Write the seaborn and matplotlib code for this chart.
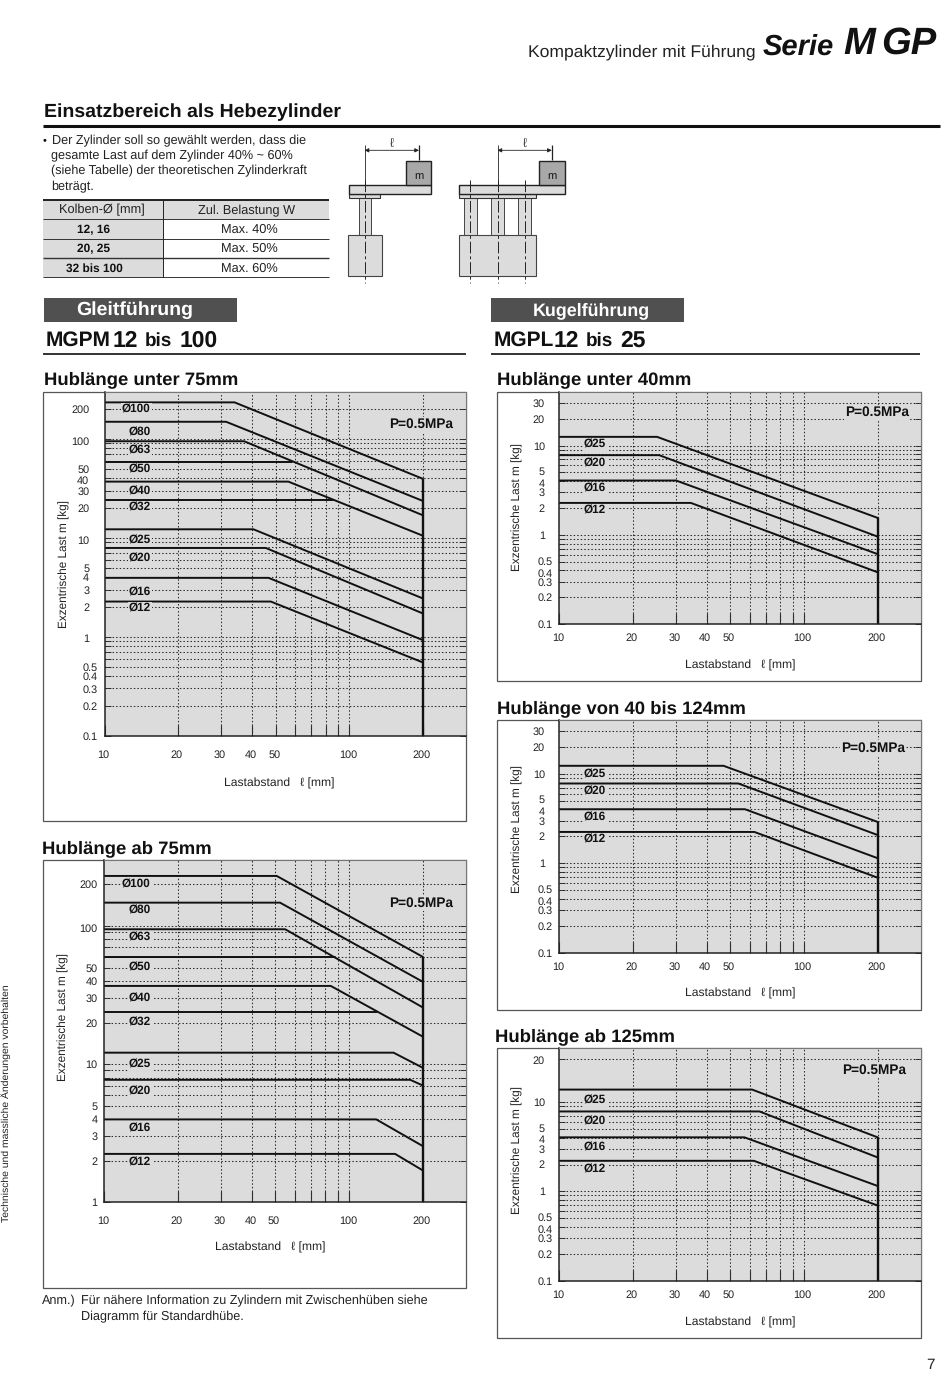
import pandas as pd
import seaborn as sb
import matplotlib.pyplot as plt
from matplotlib.patches import Rectangle
from matplotlib.transforms import ScaledTranslation

BORES_M = ["Ø100", "Ø80", "Ø63", "Ø50", "Ø40", "Ø32", "Ø25", "Ø20", "Ø16", "Ø12"]
BORES_L = ["Ø25", "Ø20", "Ø16", "Ø12"]

# flat load, distance of the knee, load at 200 mm
# (None = the line stops where it meets the next curve)
M_SHORT_FLAT = [234, 149, 94.7, 58, 37, 24, 12.2, 7.9, 3.94, 2.27]
M_SHORT_KNEE = [34, 31.4, 37.2, 58.2, 56.4, 86, 40.6, 45.6, 46.8, 47.8]
M_SHORT_END = [39.5, 23.6, 16.9, None, 10.5, None, 2.44, 1.72, 0.925, 0.55]

M_LONG_FLAT = [230, 147.4, 94.6, 59.4, 36.8, 23.8, 12.1, 7.7, 3.98, 2.24]
M_LONG_KNEE = [50.6, 52.2, 54.8, 87.7, 84.1, 129.7, 151.8, 177.5, 129, 154]
M_LONG_END = [59.7, 39.4, 25.7, None, 15.8, None, 9.4, 7.0, 2.55, 1.70]

L_SHORT_FLAT = [12.5, 7.8, 4.06, 2.28]
L_SHORT_KNEE = [25.1, 25.6, 30, 34.5]
L_SHORT_END = [1.55, 0.957, 0.61, 0.382]

L_MID_FLAT = [12.3, 7.8, 4.02, 2.24]
L_MID_KNEE = [46.9, 53.9, 57.4, 62.7]
L_MID_END = [2.9, 2.07, 1.14, 0.69]

L_LONG_FLAT = [13.8, 7.85, 4.03, 2.2]
L_LONG_KNEE = [61.4, 65.8, 57.1, 62.4]
L_LONG_END = [4.03, 2.4, 1.15, 0.695]

X_GRID = [20, 30, 40, 50, 60, 70, 80, 90, 100, 200]
X_TICKS = [10, 20, 30, 40, 50, 100, 200]
Y_GRID_LOW = [0.2, 0.3, 0.4, 0.5, 0.6, 0.7, 0.8, 0.9, 1, 2, 3, 4, 5, 6, 7, 8, 9, 10]
Y_GRID_M = [20, 30, 40, 50, 60, 70, 80, 90, 100, 200]
Y_TICKS_M_SHORT = [0.1, 0.2, 0.3, 0.4, 0.5, 1, 2, 3, 4, 5, 10, 20, 30, 40, 50, 100, 200]
Y_TICKS_M_LONG = [1, 2, 3, 4, 5, 10, 20, 30, 40, 50, 100, 200]
Y_TICKS_L = [0.1, 0.2, 0.3, 0.4, 0.5, 1, 2, 3, 4, 5, 10, 20, 30]
Y_TICKS_L_LONG = [0.1, 0.2, 0.3, 0.4, 0.5, 1, 2, 3, 4, 5, 10, 30]

NUDGE_M = {40: -1.5, 100: -1.5, 10: -1.5, 1: -1.0}
NUDGE_L = {0.4: -1.5, 0.5: 0.8, 4: -1.2, 5: 1.0}

BG = "#dcdcdc"
FONTS = ["Liberation Sans", "DejaVu Sans"]

sb.set_style("ticks")
plt.rcParams["font.family"] = FONTS
plt.rcParams["text.hinting"] = "no_hinting"

fig = plt.figure(figsize=(9.5, 13.82), dpi=100)
page = fig.add_axes([0, 0, 1, 1], zorder=0)
page.set_xlim(0, 950)
page.set_ylim(1382, 0)
page.axis("off")


def txt(x, y, s, size=8, ha="left", weight="normal", style="normal", color="#111111", rot=0, ax=None, **kw):
    target = ax if ax is not None else page
    return target.text(x, y + (0 if rot else 0.8), s, fontsize=size, ha=ha, va="center", fontweight=weight,
                       fontstyle=style, color=color, rotation=rot, transform=page.transData, clip_on=False, **kw)


def box(x0, y0, x1, y1, fc="none", ec="#333333", lw=0.8):
    page.add_patch(Rectangle((x0, y0), x1 - x0, y1 - y0, facecolor=fc, edgecolor=ec, linewidth=lw))


def hline(x0, x1, y, lw=1.0, color="#111111"):
    page.plot([x0, x1], [y, y], color=color, lw=lw, solid_capstyle="butt")


def vline(x, y0, y1, lw=0.7, color="#222222", ls="-"):
    page.plot([x, x], [y0, y1], color=color, lw=lw, ls=ls, solid_capstyle="butt")


def chart(rect, frame, bores, flat, knee, end, ylim, yticks, ylabels, ygrid, label_ys, label_x, pads,
          p_pos, xlab_pos, ylab_pos, xpad, nudge):
    # rect and frame are pixel boxes: left, top, right, bottom
    left, top, right, bottom = rect
    ax = fig.add_axes([left / 950, 1 - bottom / 1382, (right - left) / 950, (bottom - top) / 1382], zorder=1)
    box(*frame, ec="#555555", lw=0.9)

    rows = []
    for name, f, k, e in zip(bores, flat, knee, end):
        rows += [(name, 10, f), (name, k, f)]
        if e is not None:
            rows.append((name, 200, e))
    df = pd.DataFrame(rows, columns=["bore", "dist", "load"])
    sb.lineplot(data=df, x="dist", y="load", hue="bore", palette=["#111111"] * len(bores), estimator=None,
                errorbar=None, sort=False, legend=False, linewidth=1.4, ax=ax)
    ax.vlines(200, ylim[0], end[0], color="#111111", lw=1.7)

    ax.set_xscale("log")
    ax.set_yscale("log")
    ax.set_xlim(10, 300)
    ax.set_ylim(*ylim)
    ax.set_facecolor(BG)
    ax.set_xlabel("")
    ax.set_ylabel("")

    ax.set_xticks(X_TICKS, [str(v) for v in X_TICKS])
    ax.set_xticks([v for v in X_GRID if v not in X_TICKS], minor=True)
    ax.set_xticklabels([str(v) for v in X_TICKS])
    ax.set_yticks(yticks, ylabels)
    ax.set_yticks([v for v in ygrid if v not in yticks and ylim[0] < v < ylim[1]], minor=True)
    ax.set_yticklabels(ylabels)
    ax.tick_params(axis="x", which="both", direction="in", length=8, width=0.8, color="#333333",
                   labelsize=7.8, pad=xpad, top=False, labelcolor="#222222")
    ax.tick_params(axis="y", which="both", direction="in", length=4.5, width=0.7, color="#333333",
                   labelsize=7.8, left=True, right=True, labelcolor="#222222")
    for t, v in zip(ax.yaxis.get_major_ticks(), yticks):
        t.set_pad(pads[0] if v >= 1 else pads[1])
        if v in nudge:
            shift = ScaledTranslation(0, nudge[v] / 72, fig.dpi_scale_trans)
            t.label1.set_transform(t.label1.get_transform() + shift)
    # the printed x labels sit a little left of their lines
    for t in ax.xaxis.get_major_ticks():
        shift = ScaledTranslation(-1.0 / 72, 0, fig.dpi_scale_trans)
        t.label1.set_transform(t.label1.get_transform() + shift)

    dots = (0, (1.4, 2.0))
    for v in X_GRID:
        ax.axvline(v, color="#2a2a2a", lw=0.75, ls=dots, zorder=1)
    for v in ygrid:
        if ylim[0] < v < ylim[1]:
            ax.axhline(v, color="#2a2a2a", lw=0.75, ls=dots, zorder=1)
    ax.grid(False)
    for name, spine in ax.spines.items():
        spine.set_visible(True)
        spine.set_color("#222222" if name in ("left", "bottom") else "#777777")
        spine.set_linewidth(1.1 if name in ("left", "bottom") else 0.8)

    for name, y in zip(bores, label_ys):
        txt(label_x, y, name, size=8.5, ha="right", weight="bold", ax=ax, zorder=4,
            bbox=dict(facecolor=BG, edgecolor="none", pad=0.6))
    txt(p_pos[0], p_pos[1], "P=0.5MPa", size=9.8, ha="center", weight="bold", ax=ax, zorder=4,
        bbox=dict(facecolor=BG, edgecolor="none", pad=0.8))
    txt(xlab_pos[0], xlab_pos[1], "Lastabstand   ℓ [mm]", size=8.7, ha="center", color="#222222")
    txt(ylab_pos[0] + 2, ylab_pos[1], "Exzentrische Last m [kg]", size=8.5, ha="center", rot=90, color="#222222")
    return ax


def strs(vals):
    return [str(v) for v in vals]


def diagram(plate_x1, small_x1, rods, body, m_x0, m_x1, centers, mid, dim_x1, left_x0):
    for x0, x1 in rods:
        box(x0, 198, x1, 235, fc=BG, ec="#444444", lw=0.7)
    box(body[0], 235, body[1], 276.3, fc=BG, ec="#444444", lw=0.8)
    box(left_x0, 193.7, small_x1, 198, fc=BG, ec="#333333", lw=0.8)
    box(left_x0, 185, plate_x1, 193.7, fc=BG, ec="#222222", lw=1.0)
    box(m_x0, 161, m_x1, 185, fc="#a8a8a8", ec="#222222", lw=1.0)
    txt((m_x0 + m_x1) / 2, 175, "m", size=8, ha="center")
    for x, y0 in centers:
        vline(x, y0, 283, ls=(0, (12, 3, 3, 3)), lw=0.7)
    vline(mid, 145, 185, lw=0.6)
    vline(dim_x1, 145, 160, lw=0.9)
    page.annotate("", xy=(mid, 150.3), xytext=(dim_x1, 150.3),
                  arrowprops=dict(arrowstyle="<|-|>", color="#222222", lw=0.6, mutation_scale=6,
                                  shrinkA=0, shrinkB=0))
    txt((mid + dim_x1) / 2, 143, "ℓ", size=9, ha="center", color="#444444")


# page header
txt(528, 51, "Kompaktzylinder mit Führung", size=12.6, color="#222222")
txt(763, 46, "Serie", size=21, weight="bold", style="italic")
txt(843, 43, "M", size=27.5, weight="bold", style="italic")
txt(881, 43, "GP", size=27.5, weight="bold", style="italic")

txt(44, 111, "Einsatzbereich als Hebezylinder", size=14.0, weight="bold")
hline(43, 940, 126, lw=2.2)

# intro text and table
txt(43, 140, "•", size=8)
for y, line in zip([140, 155, 170, 186], ["Der Zylinder soll so gewählt werden, dass die",
                                          "gesamte Last auf dem Zylinder 40% ~ 60%",
                                          "(siehe Tabelle) der theoretischen Zylinderkraft",
                                          "beträgt."]):
    txt(51 if y > 140 else 52, y, line, size=9.1, color="#222222")

TABLE_LEFT = ["12, 16", "20, 25", "32 bis 100"]
TABLE_RIGHT = ["Max. 40%", "Max. 50%", "Max. 60%"]
box(43, 200, 163, 277.3, fc=BG, ec="none", lw=0)
box(163, 200, 329, 219.3, fc=BG, ec="none", lw=0)
hline(43, 329, 200, lw=1.3)
for y, lw in zip([219.3, 238.7, 258, 277.3], [0.7, 0.7, 1.0, 0.7]):
    hline(43, 329, y, lw=lw, color="#333333")
vline(163, 200, 277.3, lw=0.7)
txt(102, 209, "Kolben-Ø [mm]", size=9.2, ha="center", color="#222222")
txt(247, 210, "Zul. Belastung W", size=9.2, ha="center", color="#222222")
for y, a, b in zip([229, 248, 268], TABLE_LEFT, TABLE_RIGHT):
    txt(94, y, a, size=8.6, ha="center", weight="bold")
    txt(249, y, b, size=9.2, ha="center", color="#222222")

diagram(431.4, 380.4, [(358.6, 371.4)], (348.2, 381.8), 406.4, 431.4, [(364.6, 180)], 364.6, 419, 349.3)
diagram(564.6, 535.7, [(463.6, 477), (490.7, 504.3), (518.2, 531.4)], (458.6, 536.4), 539, 564.6,
        [(470.4, 180), (497.5, 180), (524.6, 180)], 497.5, 551.8, 459)

# section tabs
for x0, x1, cx, size, name in [(44, 237, 134.5, 14, "Gleitführung"), (491, 684, 591, 12.9, "Kugelführung")]:
    box(x0, 298.3, x1, 322, fc="#505050", ec="none", lw=0)
    txt(cx, 309.5, name, size=size, ha="center", weight="bold", color="white")

for x, s, size in [(46, "MGPM", 15), (113, "12", 16.5), (145, "bis", 13.6), (180, "100", 16.5),
                   (494, "MGPL", 15), (554, "12", 16.5), (586, "bis", 13.6), (620, "25", 16.5)]:
    txt(x, 340, s, size=size, weight="bold")
hline(43, 466, 354, lw=1.2)
hline(491, 920, 354, lw=1.2)

for x, y, s in [(44, 379, "Hublänge unter 75mm"), (42, 848, "Hublänge ab 75mm"),
                (497, 379, "Hublänge unter 40mm"), (497, 708, "Hublänge von 40 bis 124mm"),
                (495, 1036, "Hublänge ab 125mm")]:
    txt(x, y, s, size=13.3, weight="bold")

chart((104.5, 391.7, 466, 735.7), (42.7, 391.7, 466, 821), BORES_M, M_SHORT_FLAT, M_SHORT_KNEE, M_SHORT_END,
      (0.1, 300), Y_TICKS_M_SHORT, strs(Y_TICKS_M_SHORT), Y_GRID_LOW + Y_GRID_M,
      [409, 432, 450, 468.7, 491, 507, 540, 558, 591.3, 607.3], 150.7, (11, 5),
      (421.5, 423.7), (279, 782.7), (62, 563.7), 10, NUDGE_M)

chart((104.3, 860, 466, 1202.3), (42.7, 860, 466, 1288), BORES_M, M_LONG_FLAT, M_LONG_KNEE, M_LONG_END,
      (1, 300), Y_TICKS_M_LONG, strs(Y_TICKS_M_LONG), Y_GRID_LOW + Y_GRID_M,
      [884, 909.7, 936.7, 967, 997.7, 1021.3, 1063.7, 1090.3, 1127.7, 1161.3], 150.7, (5, 5),
      (421.5, 902.7), (270.7, 1246.7), (61.3, 1017.3), 10, {100: -1.5})

chart((559.3, 391.7, 920.7, 624.3), (497.3, 391.7, 920.7, 680.7), BORES_L, L_SHORT_FLAT, L_SHORT_KNEE, L_SHORT_END,
      (0.1, 40), Y_TICKS_L, strs(Y_TICKS_L), Y_GRID_LOW + [20, 30],
      [443.7, 462.3, 488, 510], 606, (10.3, 4.8),
      (877, 411.7), (740, 665), (515, 506.7), 6.5, NUDGE_L)

chart((559.3, 720, 920.7, 952.7), (497.3, 720, 920.7, 1010), BORES_L, L_MID_FLAT, L_MID_KNEE, L_MID_END,
      (0.1, 40), Y_TICKS_L, strs(Y_TICKS_L), Y_GRID_LOW + [20, 30],
      [773.3, 790.3, 816.7, 838.7], 606, (10.3, 4.8),
      (873, 747.3), (740, 992.7), (515, 829), 6.5, NUDGE_L)

# the picture prints "20" at the top line of this chart
chart((559.3, 1048.3, 920.7, 1280.7), (497.3, 1048.3, 920.7, 1337.7), BORES_L, L_LONG_FLAT, L_LONG_KNEE, L_LONG_END,
      (0.1, 40), Y_TICKS_L_LONG, strs(Y_TICKS_L_LONG[:-1]) + ["20"], Y_GRID_LOW + [30],
      [1100, 1121, 1146.3, 1169], 606, (10.3, 4.8),
      (873.7, 1069.7), (740, 1322), (515, 1150), 6.5, NUDGE_L)

txt(42, 1300, "Anm.)", size=9.1, color="#222222")
txt(81, 1300, "Für nähere Information zu Zylindern mit Zwischenhüben siehe", size=9.1, color="#222222")
txt(81, 1316, "Diagramm für Standardhübe.", size=9.1, color="#222222")
txt(6, 1103, "Technische und massliche Änderungen vorbehalten", size=7.5, ha="center", rot=90, color="#222222")
txt(930, 1364, "7", size=11, ha="center", color="#222222")

fig.savefig("out.png", dpi=100)
